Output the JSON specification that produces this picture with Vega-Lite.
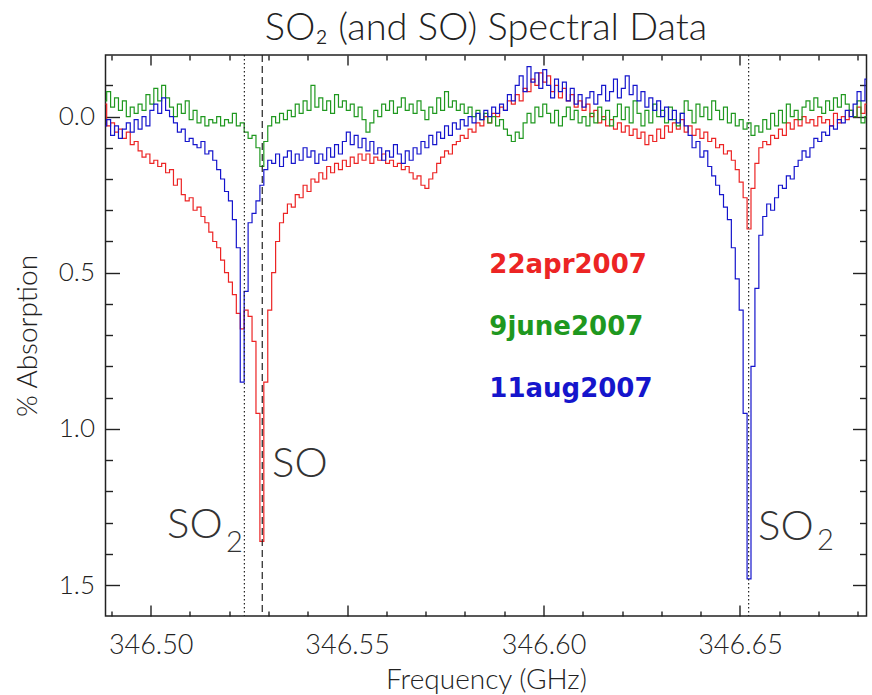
{
"$schema": "https://vega.github.io/schema/vega-lite/v6.json",
"width": 761,
"height": 561,
"autosize": "none",
"padding": {"left": 105.5, "top": 55, "right": 5.5, "bottom": 79},
"background": "white",
"title": {"text": "SO₂ (and SO) Spectral Data", "font": "Lato", "fontWeight": 300, "fontSize": 38, "color": "#222", "offset": 6},
"config": {
  "view": {"stroke": "#222", "strokeWidth": 1.5},
  "axis": {"domain": false, "grid": false, "tickColor": "#222", "tickWidth": 1.4, "labelColor": "#222", "titleColor": "#222", "labelFont": "Lato", "titleFont": "Lato", "labelFontWeight": 300, "titleFontWeight": 300, "titleFontSize": 28, "labelFlush": false, "labelOverlap": false, "zindex": 1}
},
"datasets": {
"spec": [
{"f":346.4883,"r":-0.04,"g":-0.05,"b":0.03},
{"f":346.4893,"r":0.03,"g":-0.08,"b":0.01},
{"f":346.4903,"r":0.02,"g":-0.03,"b":0.06},
{"f":346.4913,"r":0.05,"g":-0.06,"b":0.03},
{"f":346.4923,"r":0.04,"g":-0.02,"b":0.07},
{"f":346.4933,"r":0.07,"g":-0.05,"b":0.04},
{"f":346.4943,"r":0.05,"g":0.00,"b":0.02},
{"f":346.4953,"r":0.09,"g":-0.03,"b":0.05},
{"f":346.4963,"r":0.08,"g":-0.01,"b":0.01},
{"f":346.4973,"r":0.11,"g":-0.04,"b":0.04},
{"f":346.4983,"r":0.13,"g":-0.02,"b":0.00},
{"f":346.4993,"r":0.12,"g":-0.07,"b":0.03},
{"f":346.5003,"r":0.15,"g":-0.04,"b":-0.02},
{"f":346.5013,"r":0.14,"g":-0.09,"b":-0.04},
{"f":346.5023,"r":0.16,"g":-0.05,"b":-0.01},
{"f":346.5033,"r":0.15,"g":-0.10,"b":-0.06},
{"f":346.5043,"r":0.18,"g":-0.06,"b":-0.02},
{"f":346.5053,"r":0.17,"g":-0.03,"b":0.00},
{"f":346.5063,"r":0.22,"g":0.00,"b":0.02},
{"f":346.5073,"r":0.20,"g":-0.04,"b":0.05},
{"f":346.5083,"r":0.25,"g":-0.01,"b":0.04},
{"f":346.5093,"r":0.27,"g":-0.05,"b":0.08},
{"f":346.5103,"r":0.26,"g":0.01,"b":0.07},
{"f":346.5113,"r":0.30,"g":-0.02,"b":0.09},
{"f":346.5123,"r":0.29,"g":0.02,"b":0.10},
{"f":346.5133,"r":0.32,"g":0.00,"b":0.08},
{"f":346.5143,"r":0.34,"g":0.03,"b":0.12},
{"f":346.5153,"r":0.37,"g":0.01,"b":0.11},
{"f":346.5163,"r":0.40,"g":0.02,"b":0.14},
{"f":346.5173,"r":0.42,"g":0.00,"b":0.17},
{"f":346.5183,"r":0.46,"g":0.03,"b":0.20},
{"f":346.5193,"r":0.50,"g":0.01,"b":0.24},
{"f":346.5203,"r":0.53,"g":0.02,"b":0.27},
{"f":346.5213,"r":0.57,"g":-0.01,"b":0.33},
{"f":346.5223,"r":0.63,"g":0.03,"b":0.42},
{"f":346.5233,"r":0.68,"g":0.02,"b":0.85},
{"f":346.5243,"r":0.62,"g":0.05,"b":0.56},
{"f":346.5253,"r":0.64,"g":0.07,"b":0.34},
{"f":346.5263,"r":0.72,"g":0.06,"b":0.31},
{"f":346.5273,"r":0.95,"g":0.10,"b":0.27},
{"f":346.5283,"r":1.36,"g":0.16,"b":0.22},
{"f":346.5293,"r":0.85,"g":0.08,"b":0.17},
{"f":346.5303,"r":0.62,"g":0.03,"b":0.14},
{"f":346.5313,"r":0.50,"g":0.00,"b":0.15},
{"f":346.5323,"r":0.40,"g":0.02,"b":0.12},
{"f":346.5333,"r":0.34,"g":-0.01,"b":0.16},
{"f":346.5343,"r":0.31,"g":0.01,"b":0.13},
{"f":346.5353,"r":0.28,"g":-0.02,"b":0.11},
{"f":346.5363,"r":0.29,"g":0.00,"b":0.15},
{"f":346.5373,"r":0.25,"g":-0.04,"b":0.12},
{"f":346.5383,"r":0.26,"g":-0.01,"b":0.14},
{"f":346.5393,"r":0.22,"g":-0.05,"b":0.10},
{"f":346.5403,"r":0.24,"g":-0.02,"b":0.13},
{"f":346.5413,"r":0.20,"g":-0.10,"b":0.11},
{"f":346.5423,"r":0.21,"g":-0.03,"b":0.15},
{"f":346.5433,"r":0.18,"g":-0.06,"b":0.12},
{"f":346.5443,"r":0.20,"g":-0.02,"b":0.14},
{"f":346.5453,"r":0.16,"g":-0.05,"b":0.10},
{"f":346.5463,"r":0.18,"g":-0.01,"b":0.13},
{"f":346.5473,"r":0.15,"g":-0.07,"b":0.09},
{"f":346.5483,"r":0.17,"g":-0.03,"b":0.12},
{"f":346.5493,"r":0.14,"g":-0.05,"b":0.08},
{"f":346.5503,"r":0.16,"g":-0.02,"b":0.05},
{"f":346.5513,"r":0.13,"g":-0.04,"b":0.09},
{"f":346.5523,"r":0.15,"g":0.00,"b":0.06},
{"f":346.5533,"r":0.12,"g":-0.03,"b":0.10},
{"f":346.5543,"r":0.14,"g":0.01,"b":0.07},
{"f":346.5553,"r":0.12,"g":0.05,"b":0.11},
{"f":346.5563,"r":0.15,"g":0.02,"b":0.08},
{"f":346.5573,"r":0.13,"g":-0.02,"b":0.12},
{"f":346.5583,"r":0.14,"g":0.00,"b":0.10},
{"f":346.5593,"r":0.12,"g":-0.04,"b":0.14},
{"f":346.5603,"r":0.15,"g":-0.02,"b":0.11},
{"f":346.5613,"r":0.14,"g":-0.05,"b":0.13},
{"f":346.5623,"r":0.16,"g":-0.01,"b":0.09},
{"f":346.5633,"r":0.15,"g":-0.03,"b":0.12},
{"f":346.5643,"r":0.17,"g":-0.06,"b":0.15},
{"f":346.5653,"r":0.16,"g":-0.02,"b":0.11},
{"f":346.5663,"r":0.18,"g":-0.04,"b":0.14},
{"f":346.5673,"r":0.20,"g":-0.01,"b":0.10},
{"f":346.5683,"r":0.19,"g":-0.05,"b":0.12},
{"f":346.5693,"r":0.22,"g":-0.02,"b":0.08},
{"f":346.5703,"r":0.23,"g":0.01,"b":0.10},
{"f":346.5713,"r":0.20,"g":-0.03,"b":0.06},
{"f":346.5723,"r":0.18,"g":-0.01,"b":0.09},
{"f":346.5733,"r":0.15,"g":-0.06,"b":0.05},
{"f":346.5743,"r":0.13,"g":-0.02,"b":0.07},
{"f":346.5753,"r":0.11,"g":-0.08,"b":0.03},
{"f":346.5763,"r":0.12,"g":-0.03,"b":0.06},
{"f":346.5773,"r":0.09,"g":-0.05,"b":0.02},
{"f":346.5783,"r":0.08,"g":-0.02,"b":0.04},
{"f":346.5793,"r":0.06,"g":-0.04,"b":0.01},
{"f":346.5803,"r":0.07,"g":-0.01,"b":0.03},
{"f":346.5813,"r":0.04,"g":-0.03,"b":0.00},
{"f":346.5823,"r":0.05,"g":0.00,"b":0.02},
{"f":346.5833,"r":0.02,"g":-0.02,"b":-0.01},
{"f":346.5843,"r":0.03,"g":0.01,"b":0.01},
{"f":346.5853,"r":0.00,"g":-0.01,"b":-0.02},
{"f":346.5863,"r":0.02,"g":0.02,"b":0.00},
{"f":346.5873,"r":-0.01,"g":0.00,"b":-0.03},
{"f":346.5883,"r":0.00,"g":0.03,"b":-0.01},
{"f":346.5893,"r":-0.03,"g":0.01,"b":-0.04},
{"f":346.5903,"r":-0.02,"g":0.04,"b":-0.02},
{"f":346.5913,"r":-0.05,"g":0.06,"b":-0.07},
{"f":346.5923,"r":-0.04,"g":0.08,"b":-0.05},
{"f":346.5933,"r":-0.07,"g":0.05,"b":-0.10},
{"f":346.5943,"r":-0.05,"g":0.07,"b":-0.13},
{"f":346.5953,"r":-0.09,"g":0.02,"b":-0.08},
{"f":346.5963,"r":-0.08,"g":-0.01,"b":-0.16},
{"f":346.5973,"r":-0.12,"g":0.02,"b":-0.11},
{"f":346.5983,"r":-0.10,"g":-0.03,"b":-0.14},
{"f":346.5993,"r":-0.14,"g":0.00,"b":-0.09},
{"f":346.6003,"r":-0.11,"g":-0.04,"b":-0.15},
{"f":346.6013,"r":-0.13,"g":-0.01,"b":-0.10},
{"f":346.6023,"r":-0.08,"g":0.02,"b":-0.06},
{"f":346.6033,"r":-0.10,"g":-0.02,"b":-0.12},
{"f":346.6043,"r":-0.06,"g":0.03,"b":-0.08},
{"f":346.6053,"r":-0.09,"g":0.00,"b":-0.11},
{"f":346.6063,"r":-0.05,"g":-0.03,"b":-0.05},
{"f":346.6073,"r":-0.07,"g":0.01,"b":-0.09},
{"f":346.6083,"r":-0.03,"g":-0.02,"b":-0.04},
{"f":346.6093,"r":-0.05,"g":0.02,"b":-0.07},
{"f":346.6103,"r":-0.02,"g":0.00,"b":-0.03},
{"f":346.6113,"r":-0.04,"g":0.03,"b":-0.06},
{"f":346.6123,"r":0.00,"g":-0.01,"b":-0.08},
{"f":346.6133,"r":-0.02,"g":0.02,"b":-0.04},
{"f":346.6143,"r":0.02,"g":-0.03,"b":-0.07},
{"f":346.6153,"r":0.00,"g":0.01,"b":-0.10},
{"f":346.6163,"r":0.03,"g":-0.02,"b":-0.05},
{"f":346.6173,"r":0.01,"g":0.03,"b":-0.08},
{"f":346.6183,"r":0.04,"g":0.00,"b":-0.12},
{"f":346.6193,"r":0.02,"g":-0.04,"b":-0.06},
{"f":346.6203,"r":0.05,"g":0.01,"b":-0.09},
{"f":346.6213,"r":0.03,"g":-0.03,"b":-0.13},
{"f":346.6223,"r":0.06,"g":0.02,"b":-0.07},
{"f":346.6233,"r":0.04,"g":-0.05,"b":-0.10},
{"f":346.6243,"r":0.07,"g":-0.01,"b":-0.05},
{"f":346.6253,"r":0.05,"g":0.03,"b":-0.08},
{"f":346.6263,"r":0.09,"g":-0.02,"b":-0.03},
{"f":346.6273,"r":0.06,"g":0.02,"b":-0.06},
{"f":346.6283,"r":0.08,"g":-0.04,"b":-0.02},
{"f":346.6293,"r":0.04,"g":0.00,"b":-0.05},
{"f":346.6303,"r":0.07,"g":-0.02,"b":0.00},
{"f":346.6313,"r":0.03,"g":0.02,"b":-0.03},
{"f":346.6323,"r":0.05,"g":-0.03,"b":0.01},
{"f":346.6333,"r":0.02,"g":0.01,"b":-0.02},
{"f":346.6343,"r":0.04,"g":0.03,"b":0.02},
{"f":346.6353,"r":0.01,"g":-0.01,"b":-0.01},
{"f":346.6363,"r":0.05,"g":-0.05,"b":0.03},
{"f":346.6373,"r":0.03,"g":-0.02,"b":0.06},
{"f":346.6383,"r":0.06,"g":0.02,"b":0.10},
{"f":346.6393,"r":0.04,"g":-0.04,"b":0.08},
{"f":346.6403,"r":0.07,"g":0.00,"b":0.13},
{"f":346.6413,"r":0.05,"g":-0.03,"b":0.11},
{"f":346.6423,"r":0.08,"g":0.01,"b":0.16},
{"f":346.6433,"r":0.07,"g":-0.05,"b":0.19},
{"f":346.6443,"r":0.10,"g":-0.02,"b":0.22},
{"f":346.6453,"r":0.09,"g":0.01,"b":0.25},
{"f":346.6463,"r":0.12,"g":-0.03,"b":0.29},
{"f":346.6473,"r":0.11,"g":0.02,"b":0.33},
{"f":346.6483,"r":0.14,"g":-0.01,"b":0.42},
{"f":346.6493,"r":0.17,"g":0.03,"b":0.52},
{"f":346.6503,"r":0.21,"g":0.01,"b":0.62},
{"f":346.6513,"r":0.26,"g":0.04,"b":0.95},
{"f":346.6523,"r":0.36,"g":0.02,"b":1.48},
{"f":346.6533,"r":0.23,"g":0.06,"b":0.80},
{"f":346.6543,"r":0.15,"g":0.03,"b":0.55},
{"f":346.6553,"r":0.10,"g":0.05,"b":0.38},
{"f":346.6563,"r":0.08,"g":0.01,"b":0.32},
{"f":346.6573,"r":0.09,"g":0.04,"b":0.28},
{"f":346.6583,"r":0.06,"g":-0.01,"b":0.30},
{"f":346.6593,"r":0.07,"g":0.03,"b":0.26},
{"f":346.6603,"r":0.04,"g":-0.02,"b":0.22},
{"f":346.6613,"r":0.06,"g":0.02,"b":0.23},
{"f":346.6623,"r":0.02,"g":-0.04,"b":0.19},
{"f":346.6633,"r":0.04,"g":0.00,"b":0.20},
{"f":346.6643,"r":0.01,"g":-0.02,"b":0.16},
{"f":346.6653,"r":0.03,"g":0.01,"b":0.14},
{"f":346.6663,"r":0.00,"g":-0.03,"b":0.11},
{"f":346.6673,"r":0.02,"g":-0.05,"b":0.13},
{"f":346.6683,"r":0.01,"g":-0.02,"b":0.10},
{"f":346.6693,"r":0.03,"g":-0.06,"b":0.07},
{"f":346.6703,"r":0.00,"g":-0.03,"b":0.08},
{"f":346.6713,"r":0.02,"g":-0.01,"b":0.05},
{"f":346.6723,"r":0.01,"g":-0.05,"b":0.06},
{"f":346.6733,"r":0.03,"g":-0.02,"b":0.03},
{"f":346.6743,"r":-0.01,"g":-0.06,"b":0.04},
{"f":346.6753,"r":0.02,"g":-0.03,"b":0.01},
{"f":346.6763,"r":0.00,"g":-0.07,"b":0.02},
{"f":346.6773,"r":0.01,"g":-0.04,"b":-0.02},
{"f":346.6783,"r":-0.02,"g":-0.02,"b":0.00},
{"f":346.6793,"r":0.00,"g":0.00,"b":-0.04},
{"f":346.6803,"r":-0.03,"g":-0.05,"b":-0.08},
{"f":346.6813,"r":-0.01,"g":0.02,"b":-0.05},
{"f":346.6823,"r":-0.04,"g":0.00,"b":-0.12}
]
},
"resolve": {"axis": {"x": "independent", "y": "independent"}},
"layer": [
{
  "data": {"name": "spec"},
  "transform": [{"fold": ["r", "g", "b"], "as": ["key", "v"]}],
  "mark": {"type": "line", "interpolate": "step", "strokeWidth": 1.2, "clip": true},
  "encoding": {
    "x": {"field": "f", "type": "quantitative", "scale": {"domain": [346.4885, 346.6822], "nice": false, "zero": false},
      "axis": {"orient": "bottom", "values": [346.49,346.5,346.51,346.52,346.53,346.54,346.55,346.56,346.57,346.58,346.59,346.6,346.61,346.62,346.63,346.64,346.65,346.66,346.67,346.68],
        "tickSize": {"condition": {"test": "abs(datum.value*20-round(datum.value*20))<0.01", "value": -11}, "value": -5},
        "labelExpr": "abs(datum.value*20-round(datum.value*20))<0.01 ? format(datum.value,'.2f') : ''",
        "labelPadding": 27, "labelFontSize": 27, "title": "Frequency (GHz)", "titleY": 50, "titleBaseline": "top"}},
    "y": {"field": "v", "type": "quantitative", "scale": {"domain": [-0.197, 1.599], "reverse": true, "nice": false, "zero": false},
      "axis": {"orient": "left", "values": [-0.1,0,0.1,0.2,0.3,0.4,0.5,0.6,0.7,0.8,0.9,1,1.1,1.2,1.3,1.4,1.5],
        "tickSize": {"condition": {"test": "abs(datum.value*2-round(datum.value*2))<0.01", "value": -14}, "value": -7},
        "labelExpr": "abs(datum.value*2-round(datum.value*2))<0.01 ? format(datum.value,'.1f') : ''",
        "labelPadding": 25, "labelFontSize": 26, "title": "% Absorption", "titlePadding": 16}},
    "color": {"field": "key", "type": "nominal", "scale": {"domain": ["r", "g", "b"], "range": ["#ec2424", "#1f981f", "#1515cc"]}, "legend": null}
  }
},
{
  "data": {"values": [{"t": "SO", "f": 346.53088, "v": 1.154}, {"t": "SO", "f": 346.50415, "v": 1.3495}, {"t": "SO", "f": 346.65458, "v": 1.356}]},
  "mark": {"type": "text", "align": "left", "baseline": "alphabetic", "font": "Lato", "fontWeight": 300, "fontSize": 42, "color": "#333"},
  "encoding": {
    "x": {"field": "f", "type": "quantitative", "scale": {"domain": [346.4885, 346.6822], "nice": false, "zero": false},
      "axis": {"orient": "top", "values": [346.49,346.5,346.51,346.52,346.53,346.54,346.55,346.56,346.57,346.58,346.59,346.6,346.61,346.62,346.63,346.64,346.65,346.66,346.67,346.68],
        "tickSize": {"condition": {"test": "abs(datum.value*20-round(datum.value*20))<0.01", "value": -10}, "value": -5},
        "labels": false, "title": null}},
    "y": {"field": "v", "type": "quantitative", "scale": {"domain": [-0.197, 1.599], "reverse": true, "nice": false, "zero": false},
      "axis": {"orient": "right", "values": [-0.1,0,0.1,0.2,0.3,0.4,0.5,0.6,0.7,0.8,0.9,1,1.1,1.2,1.3,1.4,1.5],
        "tickSize": {"condition": {"test": "abs(datum.value*2-round(datum.value*2))<0.01", "value": -14}, "value": -7},
        "labels": false, "title": null}},
    "text": {"field": "t"}
  }
},
{
  "data": {"values": [{"t": "2", "f": 346.5192, "v": 1.394}, {"t": "2", "f": 346.66957, "v": 1.388}]},
  "mark": {"type": "text", "align": "left", "baseline": "alphabetic", "font": "Lato", "fontWeight": 300, "fontSize": 29, "color": "#333"},
  "encoding": {
    "x": {"field": "f", "type": "quantitative", "scale": {"domain": [346.4885, 346.6822], "nice": false, "zero": false}, "axis": null},
    "y": {"field": "v", "type": "quantitative", "scale": {"domain": [-0.197, 1.599], "reverse": true, "nice": false, "zero": false}, "axis": null},
    "text": {"field": "t"}
  }
},
{
  "data": {"values": [{"key": "r", "t": "22apr2007", "f": 346.5862, "v": 0.501}, {"key": "g", "t": "9june2007", "f": 346.5862, "v": 0.6996}, {"key": "b", "t": "11aug2007", "f": 346.5862, "v": 0.898}]},
  "mark": {"type": "text", "align": "left", "baseline": "alphabetic", "font": "DejaVu Sans", "fontWeight": "bold", "fontSize": 26},
  "encoding": {
    "x": {"field": "f", "type": "quantitative", "scale": {"domain": [346.4885, 346.6822], "nice": false, "zero": false}, "axis": null},
    "y": {"field": "v", "type": "quantitative", "scale": {"domain": [-0.197, 1.599], "reverse": true, "nice": false, "zero": false}, "axis": null},
    "color": {"field": "key", "type": "nominal", "scale": {"domain": ["r", "g", "b"], "range": ["#ec2424", "#1f981f", "#1515cc"]}, "legend": null},
    "text": {"field": "t"}
  }
},
{
  "data": {"values": [{"f": 346.52385}, {"f": 346.6522}]},
  "mark": {"type": "rule", "color": "#222", "strokeWidth": 1.2, "strokeDash": [1.5, 2.5]},
  "encoding": {
    "x": {"field": "f", "type": "quantitative", "scale": {"domain": [346.4885, 346.6822], "nice": false, "zero": false}, "axis": null}
  }
},
{
  "data": {"values": [{"f": 346.5284}]},
  "mark": {"type": "rule", "color": "#222", "strokeWidth": 1.2, "strokeDash": [7, 4]},
  "encoding": {
    "x": {"field": "f", "type": "quantitative", "scale": {"domain": [346.4885, 346.6822], "nice": false, "zero": false}, "axis": null}
  }
}
]
}
